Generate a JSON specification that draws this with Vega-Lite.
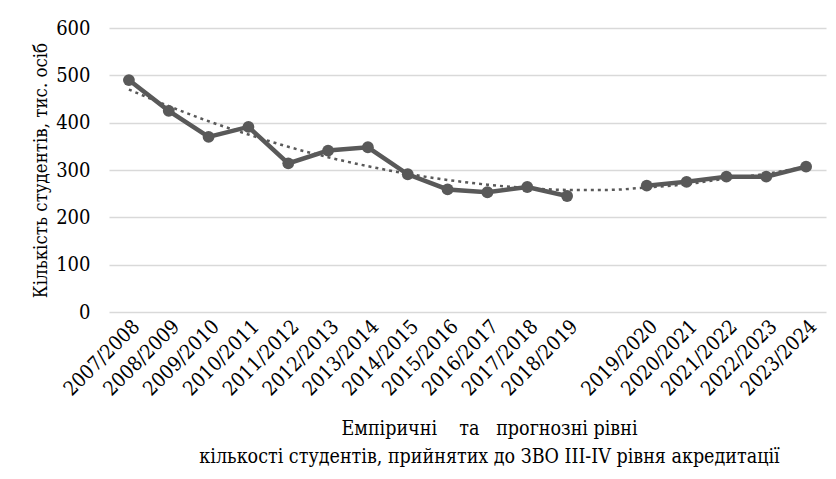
{
  "$schema": "https://vega.github.io/schema/vega-lite/v6.json",
  "width": 717,
  "height": 284,
  "autosize": {"type": "none"},
  "padding": {"left": 109, "top": 28, "right": 10, "bottom": 167},
  "background": "white",
  "config": {
    "view": {"stroke": null}
  },
  "data": {
    "values": [
      {"year": "2007/2008", "count": 490, "seg": "a", "trend": 470},
      {"year": "2008/2009", "count": 425, "seg": "a", "trend": 435},
      {"year": "2009/2010", "count": 370, "seg": "a", "trend": 403},
      {"year": "2010/2011", "count": 391, "seg": "a", "trend": 375},
      {"year": "2011/2012", "count": 314, "seg": "a", "trend": 349},
      {"year": "2012/2013", "count": 341, "seg": "a", "trend": 327},
      {"year": "2013/2014", "count": 348, "seg": "a", "trend": 308},
      {"year": "2014/2015", "count": 291, "seg": "a", "trend": 292},
      {"year": "2015/2016", "count": 259, "seg": "a", "trend": 279},
      {"year": "2016/2017", "count": 253, "seg": "a", "trend": 269},
      {"year": "2017/2018", "count": 264, "seg": "a", "trend": 262},
      {"year": "2018/2019", "count": 245, "seg": "a", "trend": 258},
      {"year": " ", "count": null, "seg": "gap", "trend": 258},
      {"year": "2019/2020", "count": 267, "seg": "b", "trend": 263},
      {"year": "2020/2021", "count": 275, "seg": "b", "trend": 270},
      {"year": "2021/2022", "count": 286, "seg": "b", "trend": 282},
      {"year": "2022/2023", "count": 286, "seg": "b", "trend": 292},
      {"year": "2023/2024", "count": 307, "seg": "b", "trend": 307}
    ]
  },
  "encoding": {
    "x": {
      "field": "year",
      "type": "ordinal",
      "sort": null,
      "scale": {"type": "point", "padding": 0.5},
      "axis": {
        "title": ["Емпіричні\u00a0\u00a0\u00a0\u00a0та\u00a0\u00a0\u00a0прогнозні рівні", "кількості студентів, прийнятих до ЗВО III-IV рівня акредитації"],
        "titleFont": "DejaVu Serif Condensed",
        "titleFontSize": 19.5,
        "titleFontWeight": "normal",
        "titleColor": "#000000",
        "titleLineHeight": 28,
        "titlePadding": 20,
        "titleX": 380,
        "labelAngle": -45,
        "labelFont": "DejaVu Serif Condensed",
        "labelFontSize": 20,
        "labelColor": "#000000",
        "labelPadding": 4,
        "labelOverlap": false,
        "ticks": false,
        "domain": false,
        "grid": false
      }
    }
  },
  "layer": [
    {
      "mark": {"type": "line", "strokeDash": [3, 4], "strokeWidth": 2.5, "color": "#595959", "interpolate": "monotone"},
      "encoding": {
        "y": {
          "field": "trend",
          "type": "quantitative",
          "scale": {"domain": [0, 600]},
          "axis": {
            "title": "Кількість студентів, тис. осіб",
            "titleFont": "DejaVu Serif Condensed",
            "titleFontSize": 18.5,
            "titleFontWeight": "normal",
            "titleColor": "#000000",
            "titlePadding": 5,
            "values": [0, 100, 200, 300, 400, 500, 600],
            "labelFont": "DejaVu Serif Condensed",
            "labelFontSize": 20,
            "labelColor": "#000000",
            "labelPadding": 19,
            "ticks": false,
            "domain": false,
            "grid": true,
            "gridColor": "#d9d9d9",
            "gridWidth": 1.5
          }
        }
      }
    },
    {
      "transform": [{"filter": "datum.count != null"}],
      "mark": {"type": "line", "strokeWidth": 4.5, "color": "#595959"},
      "encoding": {
        "y": {"field": "count", "type": "quantitative"},
        "detail": {"field": "seg"}
      }
    },
    {
      "transform": [{"filter": "datum.count != null"}],
      "mark": {"type": "point", "filled": true, "opacity": 1, "size": 140, "color": "#595959"},
      "encoding": {
        "y": {"field": "count", "type": "quantitative"}
      }
    }
  ]
}
